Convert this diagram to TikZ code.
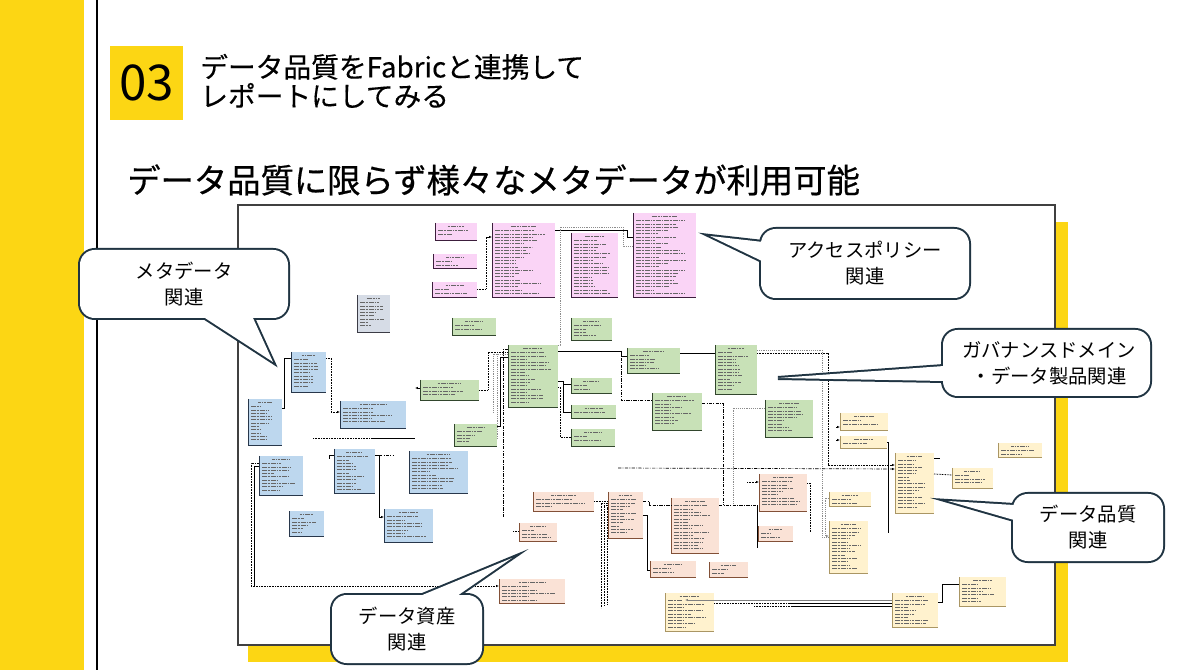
\documentclass[tikz,border=0pt]{standalone}
\usepackage{fontspec}
\newfontfamily\jp{Noto Sans CJK JP}
\newfontfamily\jph[FakeBold=0.6]{Noto Sans CJK JP}
\newfontfamily\jpt[FakeBold=0.3]{Noto Sans CJK JP}
\usetikzlibrary{arrows.meta,calc}
\definecolor{ylw}{RGB}{252,214,20}
\definecolor{cdark}{RGB}{32,52,66}
\definecolor{pkfill}{RGB}{250,212,246}
\definecolor{pkedge}{RGB}{60,30,60}
\definecolor{blfill}{RGB}{189,215,238}
\definecolor{bledge}{RGB}{40,55,75}
\definecolor{gnfill}{RGB}{200,225,183}
\definecolor{gnedge}{RGB}{50,70,45}
\definecolor{pcfill}{RGB}{250,226,214}
\definecolor{pcedge}{RGB}{130,80,55}
\definecolor{crfill}{RGB}{255,242,206}
\definecolor{credge}{RGB}{170,150,100}
\definecolor{grfill}{RGB}{214,220,230}
\definecolor{gredge}{RGB}{60,60,70}
\tikzset{
  pk/.style={fill=pkfill, inner sep=0, outer sep=0},
  pk edge/.style={draw=pkedge, line width=0.6pt},
  bl/.style={fill=blfill, inner sep=0, outer sep=0},
  bl edge/.style={draw=bledge, line width=0.6pt},
  gn/.style={fill=gnfill, inner sep=0, outer sep=0},
  gn edge/.style={draw=gnedge, line width=0.6pt},
  pc/.style={fill=pcfill, inner sep=0, outer sep=0},
  pc edge/.style={draw=pcedge, line width=0.6pt},
  cr/.style={fill=crfill, inner sep=0, outer sep=0},
  cr edge/.style={draw=credge, line width=0.6pt},
  gr/.style={fill=grfill, inner sep=0, outer sep=0},
  gr edge/.style={draw=gredge, line width=0.6pt},
  txtline/.style={draw=black!60, line width=0.45pt, dash pattern=on 2pt off 0.5pt on 1.2pt off 0.5pt},
  cs/.style={draw=black, line width=0.5pt},
  cd/.style={draw=black, line width=0.6pt, dash pattern=on 0.6pt off 0.6pt},
  cdd/.style={draw=black, line width=0.5pt, dash pattern=on 2.5pt off 1pt on 0.6pt off 1pt},
  cg/.style={draw=black!45, line width=0.5pt, dash pattern=on 0.6pt off 0.8pt},
  tip/.style={-{Latex[length=2.2pt,width=1.8pt]}},
  cob/.style={draw=cdark, line width=3pt, fill=white},
  cotext/.style={font=\jp\fontsize{14.5}{19.5}\selectfont, align=center, text=black, inner sep=0},
}
\newcommand\erb[6]{%
  \pgfmathsetmacro\erw{(#4-#2)*0.75}%
  \pgfmathsetmacro\erh{(#5-#3)*0.75}%
  \node[#6, anchor=north west, minimum width=\erw pt, minimum height=\erh pt] (#1) at (#2,#3) {};%
  \draw[#6 edge] (#1.north west) -- (#1.south west) -- (#1.south east);%
  \pgfmathtruncatemacro\ern{(#5-#3-4)/3.3}%
  \pgfmathsetmacro\ertw{(#4-#2)*0.4}%
  \draw[txtline] ({(#2+#4)/2-\ertw/2}, #3+3) -- ++(\ertw,0);%
  \foreach \i in {2,...,\ern} {\pgfmathsetmacro\erl{(#4-#2-6)*(0.3+0.6*rnd)}\draw[txtline] (#2+3, #3+1+\i*3.3) -- ++(\erl,0);}%
}
\begin{document}
\begin{tikzpicture}[x=0.75pt,y=-0.75pt]
\pgfmathsetseed{7}
\useasboundingbox (0,0) rectangle (1190,670);
\fill[white] (0,0) rectangle (1190,670);
% left band
\fill[ylw] (0,0) rectangle (84,670);
\draw[line width=1.5pt] (97,0) -- (97,670);
% header
\node[fill=ylw, anchor=north west, minimum width=54.75pt, minimum height=55.5pt, inner sep=0,
  font=\jp\fontsize{37}{37}\selectfont] (num) at (110,46) {03};
\node[anchor=west, align=left, inner sep=0, font=\jpt\fontsize{20.8}{21.8}\selectfont] (title) at (200,81)
  {データ品質をFabricと連携して\\レポートにしてみる};
\node[anchor=west, inner sep=0, font=\jph\fontsize{25}{25}\selectfont] (head) at (127,180)
  {データ品質に限らず様々なメタデータが利用可能};
% frame
\fill[ylw] (248,222) rectangle (1068,662);
\draw[fill=white, draw=black!75, line width=0.8pt] (238,205) rectangle (1055,645);
% ---- ER boxes
\erb{pka}{435}{223}{477}{240}{pk}
\erb{pkb}{433}{254}{477}{268}{pk}
\erb{pkc}{432}{282}{477}{297}{pk}
\erb{pkA}{492}{223}{555}{297}{pk}
\erb{pkB}{571}{233}{618}{297}{pk}
\erb{pkC}{633}{213}{696}{297}{pk}
\erb{gra}{357}{295}{390}{332}{gr}
\erb{gna}{452}{318}{496}{335}{gn}
\erb{gnb}{571}{318}{612}{340}{gn}
\erb{gnG}{508}{345}{558}{407}{gn}
\erb{gnc}{420}{380}{479}{400}{gn}
\erb{gnd}{571}{378}{612}{393}{gn}
\erb{gne}{571}{405}{616}{418}{gn}
\erb{gnf}{571}{429}{615}{446}{gn}
\erb{gng}{454}{424}{497}{446}{gn}
\erb{gnh}{627}{348}{680}{373}{gn}
\erb{gni}{652}{393}{702}{430}{gn}
\erb{gnj}{715}{345}{757}{394}{gn}
\erb{gnk}{765}{400}{813}{437}{gn}
\erb{bla}{291}{352}{326}{392}{bl}
\erb{blb}{248}{399}{282}{445}{bl}
\erb{blc}{340}{401}{406}{428}{bl}
\erb{bld}{259}{456}{303}{495}{bl}
\erb{ble}{334}{449}{375}{493}{bl}
\erb{blf}{409}{451}{468}{493}{bl}
\erb{blg}{289}{511}{324}{536}{bl}
\erb{blh}{384}{509}{433}{542}{bl}
\erb{pca}{533}{492}{594}{511}{pc}
\erb{pcb}{519}{523}{557}{541}{pc}
\erb{pcc}{499}{579}{565}{603}{pc}
\erb{pcd}{608}{492}{643}{538}{pc}
\erb{pcf}{671}{498}{719}{553}{pc}
\erb{pcg}{650}{561}{696}{577}{pc}
\erb{pch}{709}{562}{748}{577}{pc}
\erb{pci}{759}{474}{807}{511}{pc}
\erb{pcj}{758}{526}{793}{541}{pc}
\erb{cra}{829}{492}{871}{506}{cr}
\erb{crb}{829}{521}{868}{573}{cr}
\erb{crc}{895}{453}{934}{513}{cr}
\erb{crd}{952}{468}{993}{488}{cr}
\erb{cre}{998}{443}{1042}{457}{cr}
\erb{crf}{665}{593}{714}{631}{cr}
\erb{crg}{892}{593}{938}{627}{cr}
\erb{crh}{959}{577}{1006}{606}{cr}
\erb{cri}{840}{413}{888}{430}{cr}
\erb{crj}{840}{436}{887}{448}{cr}
% ---- connectors
\coordinate (j1) at (621,351);
\coordinate (h1) at (313,438);
\coordinate (h2) at (373,438);
\coordinate (h3) at (415,438);
\coordinate (l1) at (618,468);
\coordinate (l2) at (747,482);
\coordinate (l3) at (836,427);
\coordinate (l4) at (836,440);
\coordinate (l5) at (754,606);
\coordinate (l6) at (513,531);
\draw[cd] (pkc.east|-0,289) -| (486,237);
\draw[cs,tip] (486,237) -- (pkA.west|-0,237);
\draw[cs] (pkA.east|-0,230) -- (627,230) |- (pkC.west|-0,237);
\draw[cg] (gnG.north east) -- ++(2,0) |- (623,227) |- (pkC.west|-0,246);
\draw[cs] (gnG.east|-0,351) -- (j1) |- (gnh.west|-0,356);
\draw[cdd] (j1) |- (gni.west|-0,400);
\draw[cs] (gnh.east|-0,353) -- (gnj.west|-0,353);
\draw[cd,tip] (gnj.east|-0,353) -| (828,465) -- (crc.west|-0,465);
\draw[cg] (gnj.east|-0,350) -| (822,537) -- (crb.west|-0,537);
\draw[cdd,tip] (l1) -- (crc.west|-0,469);
\draw[cg] (gnk.west|-0,408) -| (733,505);
\draw[cd] (gnc.east|-0,390) -- (488,390) |- (gnG.west|-0,352);
\draw[cg] (gnG.west|-0,354) -| (493,413);
\draw[cg] (gnG.west|-0,354) -| (497,440);
\draw[cs] (gng.east|-0,426) -| (500,357) -- (gnG.west|-0,357);
\draw[cdd] (gnG.west|-0,349) -| (503,518);
\draw[cs] (gnG.east|-0,381) -- (563,381) |- (gnd.west|-0,384);
\draw[cs] (563,381) |- (gne.west|-0,412);
\draw[cd] (gnG.east|-0,387) -- (560,387) |- (gnf.west|-0,437);
\draw[cd,tip] (gnc.west|-0,388) -- ++(-5,0);
\draw[cs] (blb.east|-0,408) -- (284,408) |- (bla.west|-0,358);
\draw[cd,tip] (bla.east|-0,358) -- (331,358) |- (blc.west|-0,412);
\draw[cd] (h1) -- (h2);
\draw[cs] (h2) -- (h3);
\draw[cd] (bld.west|-0,463) -| (251,586);
\draw[cd,tip] (251,586) -- (pcc.west|-0,586);
\draw[cs] (bld.west|-0,466) -| (254,586);
\draw[cs,tip] (ble.east|-0,455) -- (379,455) |- (blh.west|-0,517);
\draw[cdd] (379,455) -- (393,455);
\draw[cs] (ble.west|-0,455) -- ++(-5,0) -- ++(0,4);
\draw[cd] (pca.east|-0,501) -- (pcd.west|-0,501);
\draw[cd] (pcd.west|-0,503) -| (601,608);
\draw[cd] (pcd.west|-0,505) -| (604,606);
\draw[cd] (pcd.west|-0,507) -| (607,604);
\draw[cd] (l6) -- (pcb.west|-0,531);
\draw[cdd] (pcd.east|-0,501) -| (649,505) -- (pcf.west|-0,505);
\draw[cdd] (pcf.east|-0,505) -- (757,505);
\draw[cs] (757,505) -- (757,548);
\draw[cdd] (gni.east|-0,403) -| (723,505);
\draw[cs] (pcd.east|-0,515) -| (647,570) -- (pcg.west|-0,570);
\draw[cd,tip] (l2) -- (pci.west|-0,482);
\draw[cd] (pci.east|-0,483) -| (810,532);
\draw[cg,tip] (cra.west|-0,498) -- (825,498) |- (crb.west|-0,536);
\draw[cs,tip] (l3) -- (cri.west|-0,427);
\draw[cs,tip] (l4) -- (crj.west|-0,440);
\draw[cs] (crj.east|-0,442) -| (888,533);
\draw[cd] (crc.east|-0,474) -- (crd.west|-0,475);
\draw[cs] (crc.east|-0,458) -- ++(6,0);
\draw[cs] (crg.east|-0,602) -- (942,602) |- (crh.west|-0,584);
\draw[black!50, line width=0.4pt, tip] (crg.west|-0,600) -- (685,600);
\draw[cd] (crf.east|-0,603) -- (790,603);
\draw[cs] (790,603) -- (crg.west|-0,603);
\draw[cd] (l5) -- (792,606);
\draw[cs] (792,606) -- (crg.west|-0,606);
% ---- callouts
% 1
\coordinate (t1) at (273,362); \coordinate (a1) at (253,318); \coordinate (b1) at (205,318);
\draw[cob] (t1) -- ($(t1)!1.2!(a1)$) -- ($(t1)!1.2!(b1)$) -- cycle;
\draw[cob, rounded corners=11pt] (80,250) rectangle (288,318);
\fill[white] (t1) -- ($(t1)!1.2!(a1)$) -- ($(t1)!1.2!(b1)$) -- cycle;
\fill[white, rounded corners=11pt] (80,250) rectangle (288,318);
\node[cotext] (co1) at (184,284) {メタデータ\\関連};
% 2
\coordinate (t2) at (710,236); \coordinate (a2) at (763,242); \coordinate (b2) at (762,261);
\draw[cob] (t2) -- ($(t2)!1.2!(a2)$) -- ($(t2)!1.2!(b2)$) -- cycle;
\draw[cob, rounded corners=11pt] (761,229) rectangle (969,298);
\fill[white] (t2) -- ($(t2)!1.2!(a2)$) -- ($(t2)!1.2!(b2)$) -- cycle;
\fill[white, rounded corners=11pt] (761,229) rectangle (969,298);
\node[cotext] (co2) at (865,263) {アクセスポリシー\\関連};
% 3
\coordinate (t3) at (778,378); \coordinate (a3) at (944,366); \coordinate (b3) at (944,381);
\draw[cob] (t3) -- ($(t3)!1.2!(a3)$) -- ($(t3)!1.2!(b3)$) -- cycle;
\draw[cob, rounded corners=11pt] (943,330) rectangle (1150,396);
\fill[white] (t3) -- ($(t3)!1.2!(a3)$) -- ($(t3)!1.2!(b3)$) -- cycle;
\fill[white, rounded corners=11pt] (943,330) rectangle (1150,396);
\node[cotext] (co3) at (1049,363) {ガバナンスドメイン\\・データ製品関連};
% 4
\coordinate (t4) at (948,501); \coordinate (a4) at (1014,505); \coordinate (b4) at (1014,520);
\draw[cob] (t4) -- ($(t4)!1.2!(a4)$) -- ($(t4)!1.2!(b4)$) -- cycle;
\draw[cob, rounded corners=11pt] (1013,494) rectangle (1163,561);
\fill[white] (t4) -- ($(t4)!1.2!(a4)$) -- ($(t4)!1.2!(b4)$) -- cycle;
\fill[white, rounded corners=11pt] (1013,494) rectangle (1163,561);
\node[cotext] (co4) at (1088,527) {データ品質\\関連};
% 5
\coordinate (t5) at (512,558); \coordinate (a5) at (457,596); \coordinate (b5) at (420,596);
\draw[cob] (t5) -- ($(t5)!1.2!(a5)$) -- ($(t5)!1.2!(b5)$) -- cycle;
\draw[cob, rounded corners=11pt] (332,595) rectangle (482,663);
\fill[white] (t5) -- ($(t5)!1.2!(a5)$) -- ($(t5)!1.2!(b5)$) -- cycle;
\fill[white, rounded corners=11pt] (332,595) rectangle (482,663);
\node[cotext] (co5) at (407,629) {データ資産\\関連};
\end{tikzpicture}
\end{document}
